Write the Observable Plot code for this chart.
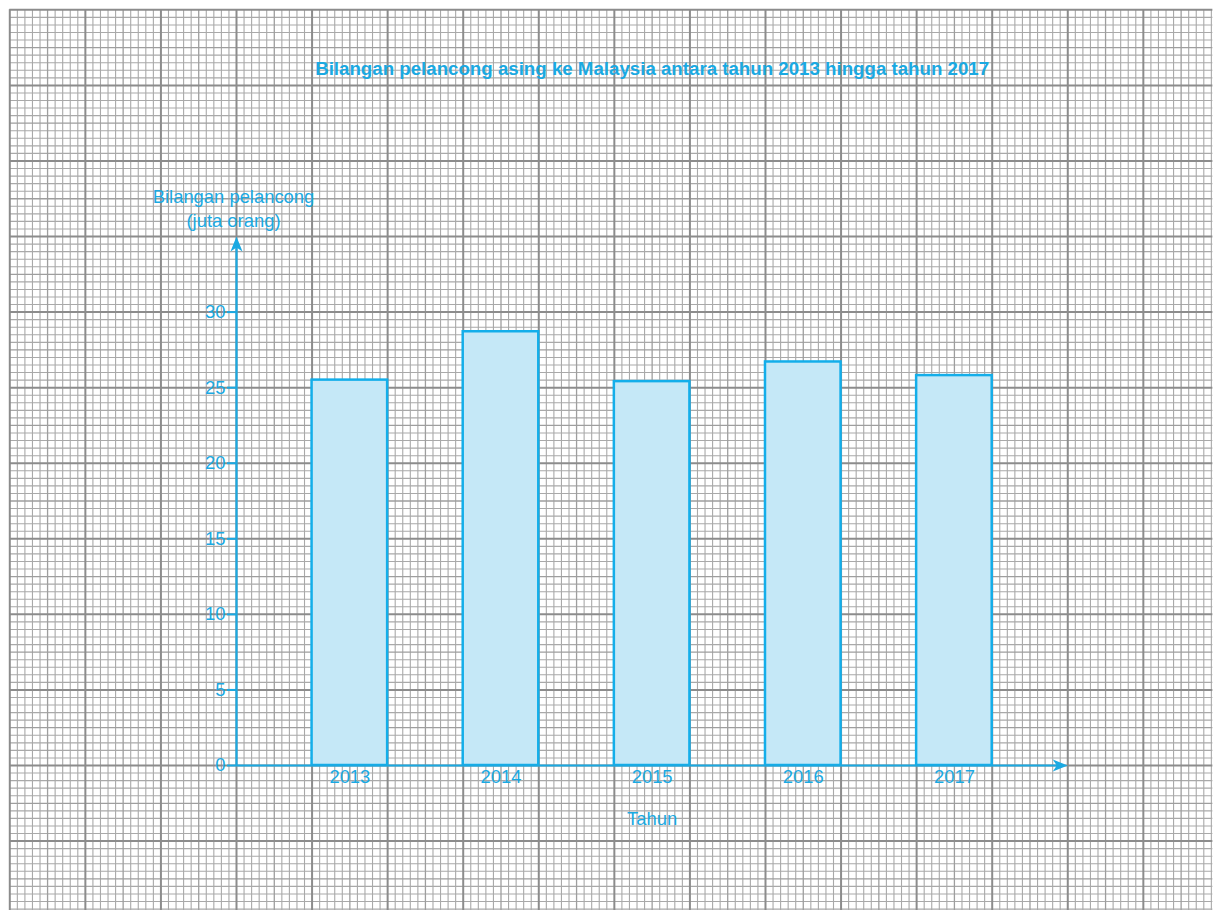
<!DOCTYPE html>
<html>
<head>
<meta charset="utf-8">
<script src="https://cdn.jsdelivr.net/npm/d3@7"></script>
<script src="https://cdn.jsdelivr.net/npm/@observablehq/plot@0.6"></script>
<style>
  html, body { margin: 0; padding: 0; background: #fff; overflow: hidden; }
  #chart svg { display: block; }
</style>
</head>
<body>
<div id="chart"></div>
<script>
// ---- data ----
const years = [2013, 2014, 2015, 2016, 2017];
const visitors = [25.5, 28.7, 25.4, 26.7, 25.8]; // juta orang
const yTicks = [0, 5, 10, 15, 20, 25, 30];
const titleText = "Bilangan pelancong asing ke Malaysia antara tahun 2013 hingga tahun 2017";
const yLabelText = "Bilangan pelancong\n(juta orang)";
const xLabelText = "Tahun";

// ---- layout / style ----
const BLUE = "#1aa9e2";
const yAxisAt = 2012.25;   // x value where the y axis sits
const xArrowEnd = 2017.75; // end of the x axis arrow
const yArrowEnd = 35;      // end of the y axis arrow
const halfBar = 0.25;
const FS = 18.4;

const data = years.map((y, i) => ({year: y, value: visitors[i]}));

// graph-paper grid (in data units: 0.05 year / 0.5 million per small square)
const vLines = d3.range(0, 160).map(i => ({x: 2010.75 + i * 0.05, kind: i % 10 === 0 ? 2 : (i % 5 === 0 ? 1 : 0)}));
const hLines = d3.range(-19, 101).map(i => ({y: i / 2, kind: i % 10 === 0 ? 2 : (i % 5 === 0 ? 1 : 0)}));
const gridStroke = ["#a9a9a9", "#9e9e9e", "#8c8c8c"];
const gridWidth = [1.1, 1.3, 2];

const upArrow = {draw(ctx) { ctx.moveTo(0, 0); ctx.lineTo(6, 15); ctx.lineTo(0, 11); ctx.lineTo(-6, 15); ctx.closePath(); }};
const rightArrow = {draw(ctx) { ctx.moveTo(0, 0); ctx.lineTo(-15, 6); ctx.lineTo(-11, 0); ctx.lineTo(-15, -6); ctx.closePath(); }};

const gridMarks = [0, 1, 2].flatMap(k => [
  Plot.ruleX(vLines.filter(d => d.kind === k), {x: "x", y1: -10, y2: 50, stroke: gridStroke[k], strokeWidth: gridWidth[k]}),
  Plot.ruleY(hLines.filter(d => d.kind === k), {y: "y", x1: 2010.75, x2: 2018.71, stroke: gridStroke[k], strokeWidth: gridWidth[k]})
]);

const chart = Plot.plot({
  width: 1215,
  height: 910,
  margin: 0,
  style: {fontFamily: "'Liberation Sans', Arial, sans-serif", background: "#fff", overflow: "hidden"},
  x: {domain: [2012.25, 2017.25], range: [236, 991.7], axis: null},
  y: {domain: [0, 30], range: [765, 311.6], axis: null},
  marks: [
    ...gridMarks,
    // bars
    Plot.rectY(data, {x1: d => d.year - halfBar, x2: d => d.year + halfBar, y1: 0, y2: "value",
      fill: "#c5e8f7", stroke: "#13aeea", strokeWidth: 2.5}),
    // axes lines
    Plot.ruleX([yAxisAt], {x: d => d, y1: 0, y2: yArrowEnd - 0.5, stroke: BLUE, strokeWidth: 2.2}),
    Plot.ruleY([0], {y: d => d, x1: yAxisAt, x2: xArrowEnd - 0.03, stroke: BLUE, strokeWidth: 2.2}),
    Plot.dot([yArrowEnd], {x: yAxisAt, y: d => d, symbol: upArrow, fill: BLUE, stroke: "none"}),
    Plot.dot([0], {x: xArrowEnd, y: d => d, symbol: rightArrow, fill: BLUE, stroke: "none"}),
    // y ticks
    Plot.ruleY(yTicks, {y: d => d, x1: yAxisAt, x2: yAxisAt, insetLeft: -9, stroke: BLUE, strokeWidth: 2}),
    Plot.text(yTicks, {y: d => d, x: yAxisAt, text: d => String(d), textAnchor: "end", dx: -11,
      fill: BLUE, fontSize: FS}),
    // x tick labels
    Plot.text(years, {x: d => d, y: 0, text: d => String(d), dy: 12, lineAnchor: "middle",
      fill: BLUE, fontSize: FS}),
    // axis titles
    Plot.text([yLabelText], {x: yAxisAt, y: yArrowEnd, text: d => d, lineAnchor: "bottom", dy: -10, dx: -3,
      fill: BLUE, fontSize: FS, lineHeight: 1.27}),
    Plot.text([xLabelText], {x: d3.mean(years), y: 0, text: d => d, dy: 54, lineAnchor: "middle",
      fill: BLUE, fontSize: FS}),
    // title
    Plot.text([titleText], {x: d3.mean(years), frameAnchor: "top", dy: 69, lineAnchor: "middle",
      text: d => d, fill: BLUE, fontSize: 18.7, fontWeight: "bold"})
  ]
});
document.getElementById("chart").appendChild(chart);
</script>
</body>
</html>
